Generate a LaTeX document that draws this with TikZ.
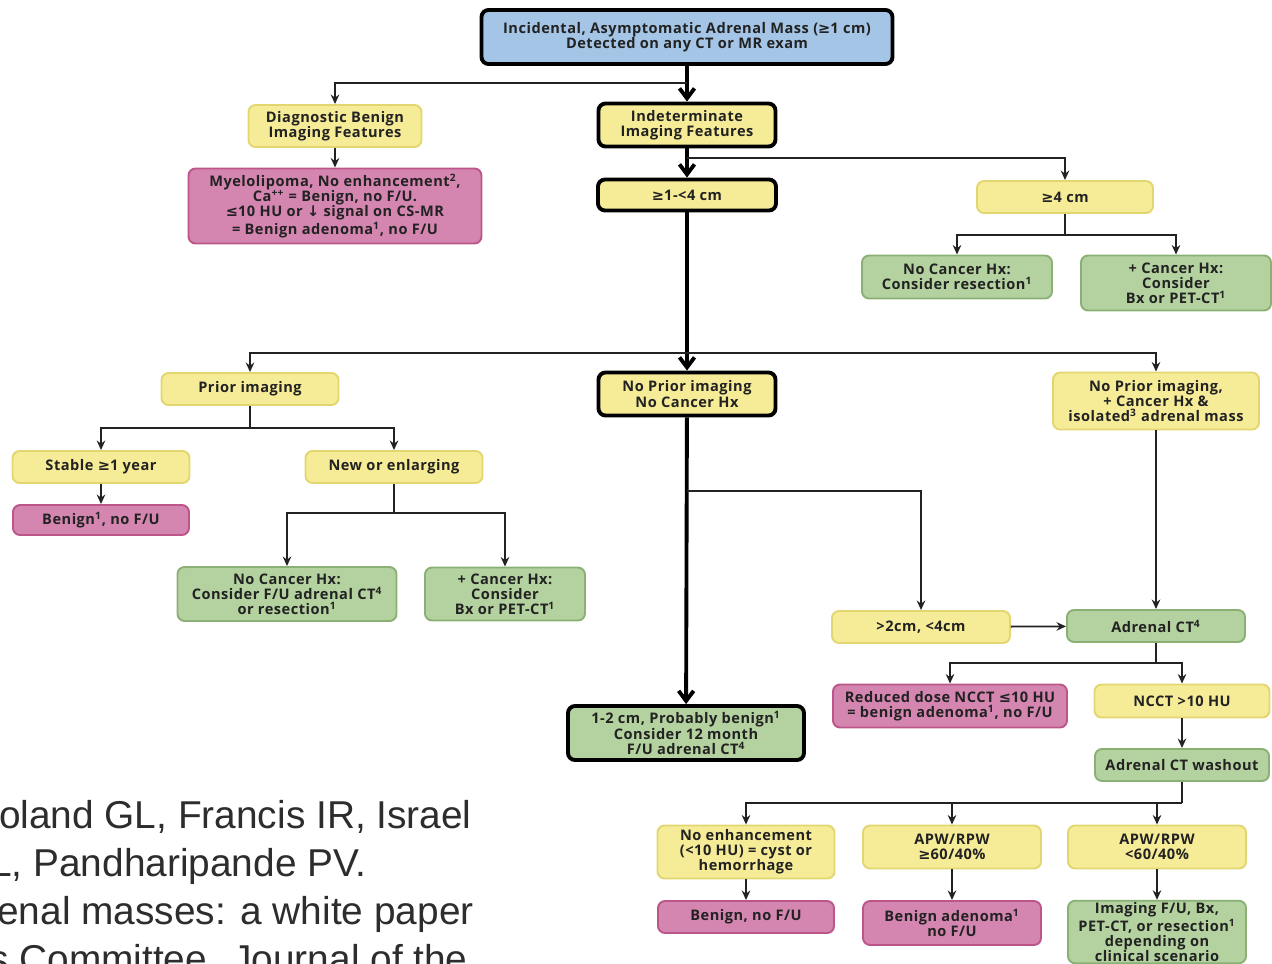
\documentclass[tikz,border=0pt]{standalone}
\usepackage{fontspec}
\setmainfont{Open Sans}[LetterSpace=3.5]
\newfontfamily\citefont{Liberation Sans}
\newfontfamily\symfont{DejaVu Sans}
\usepackage{xcolor}
\usepackage{tikz}
\usetikzlibrary{arrows.meta,positioning}

\definecolor{boxyellow}{RGB}{246,236,152}
\definecolor{edgeyellow}{RGB}{226,214,112}
\definecolor{boxgreen}{RGB}{180,209,160}
\definecolor{edgegreen}{RGB}{138,176,116}
\definecolor{boxpink}{RGB}{212,134,176}
\definecolor{edgepink}{RGB}{188,86,138}
\definecolor{boxblue}{RGB}{164,197,230}
\definecolor{inkgray}{RGB}{34,34,34}
\definecolor{citegray}{RGB}{45,45,45}

\newcommand{\sym}[1]{{\symfont #1}}
\newcommand{\fn}[1]{\textsuperscript{#1}}

\begin{document}
\begin{tikzpicture}[
  x=0.02cm, y=-0.02cm,
  box/.style={rounded corners=4pt, align=center, text=inkgray, inner sep=1pt,
    line width=1.1pt, font=\fontsize{8.3}{8.6}\selectfont\bfseries},
  ybox/.style={box, fill=boxyellow, draw=edgeyellow},
  gbox/.style={box, fill=boxgreen, draw=edgegreen},
  pbox/.style={box, fill=boxpink, draw=edgepink},
  key/.style={draw=black, line width=2.2pt},
  sz/.style 2 args={minimum width=#1*0.02cm, minimum height=#2*0.02cm},
  flow/.style={-{Stealth[length=1.9mm,width=1.7mm]}, line width=1pt, draw=inkgray},
  link/.style={line width=1pt, draw=inkgray},
  trunk/.style={-{Straight Barb[length=2mm,width=3mm]}, line width=2.2pt, draw=black},
  cite/.style={anchor=base east, inner sep=0pt, text=citegray, font=\citefont\fontsize{22.1}{26}\selectfont}
]
\useasboundingbox (0,0) rectangle (1272,964);

% citation fragment left of the chart
\begin{scope}
\clip (0,0) rectangle (1272,964);
\node[cite] (cite1) at (472,828) {oland GL, Francis IR, Israel};
\node[cite] (cite2) at (367,876) {L, Pandharipande PV.};
\node[cite] (cite3) at (474,924) {enal masses: a white paper};
\node[cite] (cite4) at (468,972) {s Committee. Journal of the};
\end{scope}

% top of the chart
\node[ybox, key, fill=boxblue, sz={411}{54}] (mass) at (687,37) {Incidental, Asymptomatic Adrenal Mass (\sym{≥}1 cm)\\Detected on any CT or MR exam};
\node[ybox, sz={173}{42}] (benfeat) at (335,126) {Diagnostic Benign\\Imaging Features};
\node[ybox, key, sz={177}{43}] (indet) at (687,125) {Indeterminate\\Imaging Features};
\node[pbox, sz={293}{75}] (myelo) at (335,206) {Myelolipoma, No enhancement\fn{2},\\Ca\fn{++} = Benign, no F/U.\\\sym{≤}10 HU or \sym{↓} signal on CS-MR\\= Benign adenoma\fn{1}, no F/U};
\node[ybox, key, sz={178}{31}] (small) at (687,195) {\sym{≥}1-<4 cm};
\node[ybox, sz={176}{32}] (large) at (1065,197) {\sym{≥}4 cm};
\node[gbox, sz={190}{43}] (lgnohx) at (957,277) {No Cancer Hx:\\Consider resection\fn{1}};
\node[gbox, sz={190}{55}] (lghx) at (1176,283) {+ Cancer Hx:\\Consider\\Bx or PET-CT\fn{1}};

% middle row
\node[ybox, sz={177}{32}] (prior) at (250,389) {Prior imaging};
\node[ybox, key, sz={177}{43}] (noprior) at (687,394) {No Prior imaging\\No Cancer Hx};
\node[ybox, sz={206}{57}] (nopriorhx) at (1156,401) {No Prior imaging,\\+ Cancer Hx \&\\isolated\fn{3} adrenal mass};
\node[ybox, sz={177}{32}] (stable) at (101,467) {Stable \sym{≥}1 year};
\node[ybox, sz={177}{32}] (growing) at (394,467) {New or enlarging};
\node[pbox, sz={176}{30}] (stableben) at (101,520) {Benign\fn{1}, no F/U};
\node[gbox, sz={219}{54}] (grnohx) at (287,594) {No Cancer Hx:\\Consider F/U adrenal CT\fn{4}\\or resection\fn{1}};
\node[gbox, sz={160}{53}] (grhx) at (505,594) {+ Cancer Hx:\\Consider\\Bx or PET-CT\fn{1}};

% lower right
\node[ybox, sz={178}{32}] (mid) at (921,627) {>2cm, <4cm};
\node[gbox, sz={178}{32}] (adct) at (1156,626) {Adrenal CT\fn{4}};
\node[pbox, sz={234}{43}] (lowhu) at (950,706) {Reduced dose NCCT \sym{≤}10 HU\\= benign adenoma\fn{1}, no F/U};
\node[ybox, sz={175}{33}] (highhu) at (1182,701) {NCCT >10 HU};
\node[gbox, key, sz={236}{54}] (tiny) at (686,733) {1-2 cm, Probably benign\fn{1}\\Consider 12 month\\F/U adrenal CT\fn{4}};
\node[gbox, sz={174}{32}] (washout) at (1182,765) {Adrenal CT washout};
\node[ybox, sz={177}{53}] (noenh) at (746,852) {No enhancement\\(<10 HU) = cyst or\\hemorrhage};
\node[ybox, sz={178}{43}] (washhi) at (952,847) {APW/RPW\\\sym{≥}60/40\%};
\node[ybox, sz={178}{43}] (washlo) at (1157,847) {APW/RPW\\<60/40\%};
\node[pbox, sz={176}{32}] (cystben) at (746,917) {Benign, no F/U};
\node[pbox, sz={178}{44}] (adenoma) at (952,923) {Benign adenoma\fn{1}\\no F/U};
\node[gbox, sz={178}{62}] (workup) at (1157,932) {Imaging F/U, Bx,\\PET-CT, or resection\fn{1}\\depending on\\clinical scenario};

% split points
\coordinate (s1) at (687,83);
\coordinate (s2) at (687,158);
\coordinate (s3) at (1065,235);
\coordinate (s4) at (687,353);
\coordinate (s5) at (250,428);
\coordinate (s6) at (394,513);
\coordinate (s7) at (687,491);
\coordinate (s8) at (1156,663);
\coordinate (s9) at (1182,803);

% main line
\draw[trunk] (mass) -- (indet);
\draw[trunk] (indet) -- (small);
\draw[trunk] (small) -- (noprior);
\draw[trunk] (noprior) -- (tiny);

\draw[flow] (s1) -| (benfeat);
\draw[flow] (benfeat) -- (myelo);
\draw[flow] (s2) -| (large);
\draw[link] (large) -- (s3);
\draw[flow] (s3) -| (lgnohx);
\draw[flow] (s3) -| (lghx);

\draw[flow] (s4) -| (prior);
\draw[flow] (s4) -| (nopriorhx);
\draw[link] (prior) -- (s5);
\draw[flow] (s5) -| (stable);
\draw[flow] (s5) -| (growing);
\draw[flow] (stable) -- (stableben);
\draw[link] (growing) -- (s6);
\draw[flow] (s6) -| (grnohx);
\draw[flow] (s6) -| (grhx);

\draw[flow] (s7) -| (mid);
\draw[flow] (nopriorhx) -- (adct);
\draw[flow] (mid) -- (adct);
\draw[link] (adct) -- (s8);
\draw[flow] (s8) -| (lowhu);
\draw[flow] (s8) -| (highhu);
\draw[flow] (highhu) -- (washout);
\draw[link] (washout) -- (s9);
\draw[flow] (s9) -| (noenh);
\draw[flow] (s9) -| (washhi);
\draw[flow] (s9) -| (washlo);
\draw[flow] (noenh) -- (cystben);
\draw[flow] (washhi) -- (adenoma);
\draw[flow] (washlo) -- (workup);
\end{tikzpicture}
\end{document}
